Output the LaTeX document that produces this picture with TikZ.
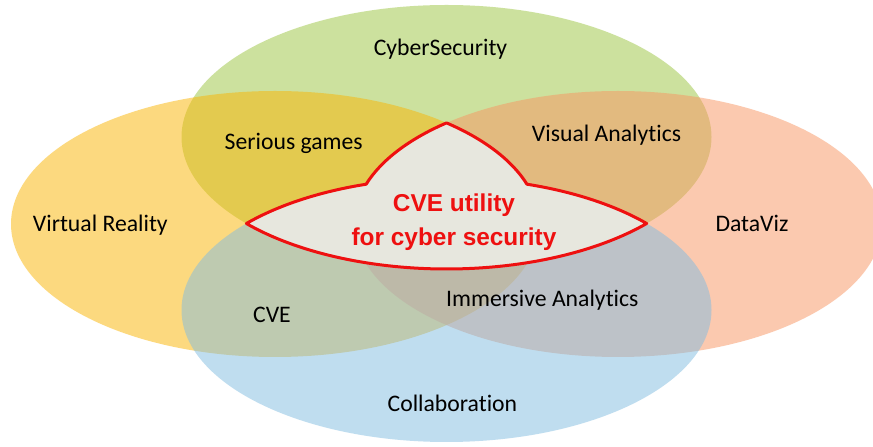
\documentclass[tikz,border=0pt]{standalone}
\usepackage{fontspec}
\setmainfont[Ligatures={NoCommon,NoContextual}]{Carlito}
\newfontfamily\arialf{Liberation Sans}
\usetikzlibrary{calc}
\definecolor{gbase}{RGB}{155,197,63}
\definecolor{ybase}{RGB}{251,181,1}
\definecolor{sbase}{RGB}{249,149,97}
\definecolor{bbase}{RGB}{129,189,225}
\definecolor{cfill}{RGB}{231,231,222}
\definecolor{cred}{RGB}{238,16,16}
\tikzset{
  blob/.style={fill opacity=0.5},
  lbl/.style={anchor=base, inner sep=0pt, font=\fontsize{23.7}{28}\selectfont, text=black},
  redlbl/.style={anchor=base, inner sep=0pt, font=\arialf\bfseries\fontsize{24.4}{30}\selectfont, text=cred},
  core/.style={draw=cred, line width=3pt, fill=cfill, line join=round}
}
\begin{document}
\begin{tikzpicture}[x=1pt,y=1pt]
\useasboundingbox (0,0) rectangle (873,447);
\fill[white] (0,0) rectangle (873,447);
\coordinate (G) at (446.5,310);
\coordinate (B) at (446.5,137);
\coordinate (Y) at (275,223);
\coordinate (S) at (618,223);
% ellipses
\fill[blob, gbase] (G) ellipse [x radius=265, y radius=132];
\fill[blob, ybase] (Y) ellipse [x radius=264, y radius=133];
\fill[blob, sbase] (S) ellipse [x radius=264, y radius=133];
\fill[blob, bbase] (B) ellipse [x radius=265, y radius=132];
% central region
\draw[core] ($(G)+(220.94:265 and 132)$)
  arc[start angle=220.94, end angle=319.06, x radius=265, y radius=132]
  arc[start angle=40.94, end angle=72.33, x radius=265, y radius=132]
  arc[start angle=17.4, end angle=49.48, x radius=264, y radius=133]
  arc[start angle=130.52, end angle=162.6, x radius=264, y radius=133]
  arc[start angle=107.67, end angle=139.06, x radius=265, y radius=132]
  -- cycle;
% labels
\node[lbl] (cyber) at (440.5,391) {CyberSecurity};
\node[lbl] (serious) at (293.7,297.4) {Serious games};
\node[lbl] (visual) at (606.6,305) {Visual Analytics};
\node[lbl] (vr) at (100.3,215.3) {Virtual Reality};
\node[lbl] (dataviz) at (752,215) {DataViz};
\node[lbl] (immersive) at (542.3,140.7) {Immersive Analytics};
\node[lbl] (cve) at (272,124.4) {CVE};
\node[lbl] (collab) at (452.4,35) {Collaboration};
\node[redlbl] (util1) at (454,235) {CVE utility};
\node[redlbl] (util2) at (454,201) {for cyber security};
\end{tikzpicture}
\end{document}
